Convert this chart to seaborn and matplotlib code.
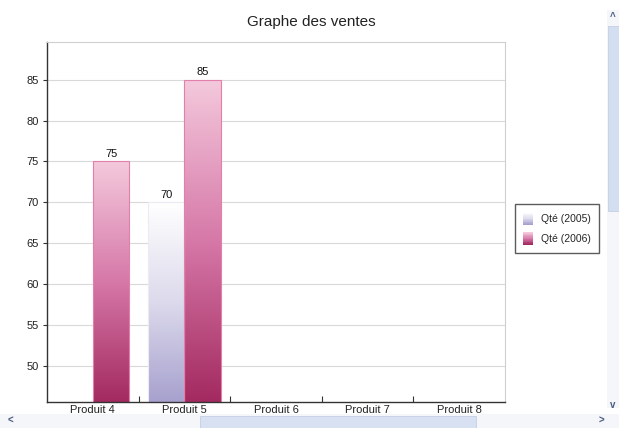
import numpy as np
import pandas as pd
import matplotlib
matplotlib.use("Agg")
import matplotlib.pyplot as plt
from matplotlib.patches import Rectangle
from matplotlib.colors import LinearSegmentedColormap
from matplotlib.legend_handler import HandlerBase
import seaborn as sns

# --- data -------------------------------------------------------------
produits = ["Produit 4", "Produit 5", "Produit 6", "Produit 7", "Produit 8"]
qte_2005 = [np.nan, 70, np.nan, np.nan, np.nan]
qte_2006 = [75, 85, np.nan, np.nan, np.nan]
series = ["Qté (2005)", "Qté (2006)"]
y_ticks = [50, 55, 60, 65, 70, 75, 80, 85]

df = pd.DataFrame({
    "Produit": produits * 2,
    "Série": [series[0]] * len(produits) + [series[1]] * len(produits),
    "Qté": qte_2005 + qte_2006,
})

# gradient colour stops (bottom -> top) for each series
grad = {
    series[0]: ["#a7a1ce", "#dcdaec", "#ffffff"],
    series[1]: ["#a32a60", "#d678a8", "#f4c9dc"],
}
edges = {series[0]: "#ecebf3", series[1]: "#e27fab"}

sns.set_theme(style="white")
plt.rcParams["font.family"] = ["Liberation Sans", "DejaVu Sans"]

fig = plt.figure(figsize=(6.19, 4.28), dpi=100, facecolor="white")
ax = fig.add_axes([47 / 619, 26 / 428, 458 / 619, 360 / 428])
ax.set_zorder(2)

sns.barplot(data=df, x="Produit", y="Qté", hue="Série", order=produits,
            hue_order=series, palette=[grad[s][0] for s in series],
            width=0.8, saturation=1, ax=ax, legend=False)

ylo, yhi = 45.6, 89.6
ax.set_ylim(ylo, yhi)
ax.set_xlim(-0.5, len(produits) - 0.5)

# replace flat fills with vertical gradients clipped to each bar
for container, name in zip(ax.containers, series):
    cmap = LinearSegmentedColormap.from_list(name, grad[name])
    for bar in container:
        h = bar.get_height()
        if not np.isfinite(h):
            continue
        x0 = bar.get_x()
        x1 = x0 + bar.get_width()
        y0 = max(bar.get_y(), ylo)
        y1 = bar.get_y() + h
        bar.set_facecolor("none")
        bar.set_edgecolor(edges[name])
        bar.set_linewidth(0.8)
        img = ax.imshow(np.linspace(0, 1, 256).reshape(-1, 1), cmap=cmap,
                        extent=[x0, x1, y0, y1], origin="lower",
                        aspect="auto", zorder=bar.get_zorder() - 0.1,
                        interpolation="bicubic")
        img.set_clip_path(bar)
    ax.bar_label(container, fmt="%g", padding=2, fontsize=8, color="#111111")

ax.set_xlim(-0.5, len(produits) - 0.5)
ax.set_ylim(ylo, yhi)

# axes styling
ax.set_xlabel("")
ax.set_ylabel("")
ax.set_xticks(range(len(produits)))
ax.set_xticklabels(produits)
ax.set_yticks(y_ticks)
ax.yaxis.grid(True, color="#d9d9d9", linewidth=0.8)
ax.set_axisbelow(True)
ax.tick_params(axis="y", labelsize=8, labelcolor="#222222", left=True,
               length=3, width=0.8, color="#333333", pad=3)
ax.tick_params(axis="x", which="major", labelsize=8, labelcolor="#222222",
               bottom=False, length=0, labelbottom=True, pad=2)
ax.set_xticks(np.arange(len(produits) - 1) + 0.5, minor=True)
ax.tick_params(axis="x", which="minor", bottom=True, direction="in",
               length=4, width=0.8, color="#333333")
for side in ("left", "bottom"):
    ax.spines[side].set_color("#333333")
    ax.spines[side].set_linewidth(1.0)
for side in ("top", "right"):
    ax.spines[side].set_color("#cfcfcf")
    ax.spines[side].set_linewidth(0.8)

fig.text(311 / 619, 1 - 22 / 428, "Graphe des ventes", ha="center",
         va="center", fontsize=11, color="#222222")


# legend with gradient swatches
class GradientHandler(HandlerBase):
    def __init__(self, stops, n=16):
        super().__init__()
        self.cmap = LinearSegmentedColormap.from_list("g", stops)
        self.n = n

    def create_artists(self, legend, orig_handle, xdescent, ydescent,
                       width, height, fontsize, trans):
        arts = []
        for i in range(self.n):
            r = Rectangle((-xdescent, -ydescent + height * i / self.n),
                          width, height / self.n + 0.3,
                          facecolor=self.cmap(i / (self.n - 1)),
                          edgecolor="none", transform=trans)
            arts.append(r)
        return arts


handles = [Rectangle((0, 0), 1, 1) for _ in series]
handler_map = {h: GradientHandler(grad[s]) for h, s in zip(handles, series)}
leg = fig.legend(handles, series, handler_map=handler_map,
                 loc="center", bbox_to_anchor=(557 / 619, 1 - 228.5 / 428),
                 fontsize=7.5, frameon=True, fancybox=False,
                 handlelength=0.9, handleheight=1.5, handletextpad=0.8,
                 labelspacing=0.7, borderpad=0.8, borderaxespad=0)
leg.get_frame().set_edgecolor("#333333")
leg.get_frame().set_linewidth(1.0)


# window scrollbars framing the chart
def px_rect(x, y, w, h, **kw):
    fig.add_artist(Rectangle((x / 619, 1 - (y + h) / 428), w / 619, h / 428,
                             transform=fig.transFigure, zorder=-1, **kw))


px_rect(607, 10, 12, 398, facecolor="#f4f6fa", edgecolor="none")
px_rect(608, 26, 11, 185, facecolor="#d3def1", edgecolor="#c3cfe6", lw=0.6)
px_rect(0, 414, 619, 14, facecolor="#f4f6fa", edgecolor="none")
px_rect(200, 416, 276, 12, facecolor="#d7e1f2", edgecolor="#c3cfe6", lw=0.6)
for x, y, s in [(613, 17, "^"), (613, 405, "v"), (10, 421, "<"), (601, 421, ">")]:
    fig.text(x / 619, 1 - y / 428, s, ha="center", va="center", fontsize=7,
             color="#4a5a80", fontweight="bold")

fig.savefig("out.png", dpi=100, facecolor=fig.get_facecolor())
